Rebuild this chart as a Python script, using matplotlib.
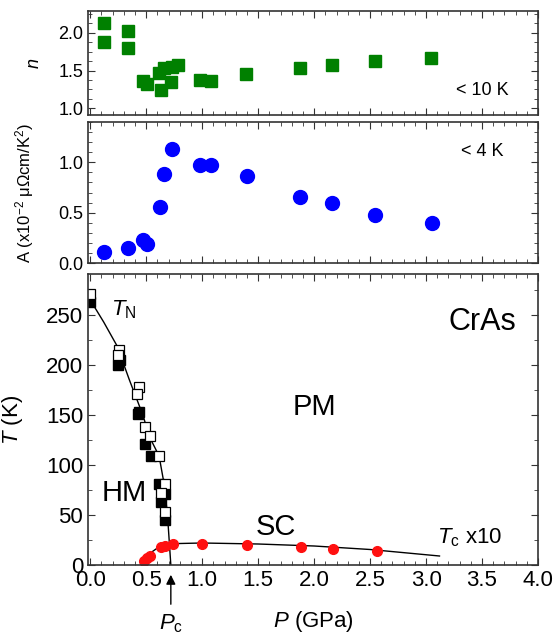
import numpy as np
import matplotlib.pyplot as plt
from matplotlib.ticker import MultipleLocator

plt.rcParams['font.family'] = ['Liberation Sans', 'DejaVu Sans']
plt.rcParams['mathtext.fontset'] = 'custom'
plt.rcParams['mathtext.rm'] = 'Liberation Sans'
plt.rcParams['mathtext.it'] = 'Liberation Sans:italic'

# exponent n (< 10 K)
p_n = [0.12, 0.12, 0.34, 0.34, 0.47, 0.51, 0.61, 0.63, 0.66, 0.72, 0.73, 0.78, 0.98, 1.08, 1.39, 1.87, 2.16, 2.54, 3.04]
n_val = [2.13, 1.88, 2.03, 1.80, 1.36, 1.32, 1.47, 1.24, 1.53, 1.35, 1.55, 1.57, 1.38, 1.36, 1.46, 1.54, 1.58, 1.63, 1.67]

# A coefficient (< 4 K)
p_a = [0.12, 0.34, 0.47, 0.51, 0.62, 0.66, 0.73, 0.98, 1.08, 1.40, 1.87, 2.16, 2.54, 3.05]
a_val = [0.11, 0.15, 0.23, 0.19, 0.56, 0.88, 1.13, 0.97, 0.97, 0.86, 0.66, 0.60, 0.48, 0.40]

# T_N, filled and open squares
p_tn_fill = [0.0, 0.25, 0.27, 0.43, 0.44, 0.49, 0.54, 0.61, 0.67, 0.63, 0.67]
tn_fill = [263, 200, 205, 151, 153, 121, 109, 81, 71, 63, 45]
p_tn_open = [0.0, 0.26, 0.25, 0.44, 0.42, 0.49, 0.53, 0.61, 0.67, 0.63, 0.67]
tn_open = [271, 215, 210, 178, 171, 138, 129, 109, 81, 72, 53]

# T_N guide line
p_tn_line = [0.0, 0.12, 0.24, 0.35, 0.47, 0.53, 0.615, 0.66, 0.69, 0.705, 0.72]
tn_line = [265, 243, 219, 185, 150, 128, 109, 81, 50, 25, 0]

# Tc x10
p_tc = [0.48, 0.51, 0.53, 0.63, 0.67, 0.735, 1.0, 1.40, 1.88, 2.17, 2.56]
tc_val = [4, 7, 9, 18, 19, 21, 21, 20.5, 18.3, 16.3, 14.3]

p_tc_line = [0.47, 0.5, 0.55, 0.6, 0.7, 0.8, 1.0, 1.5, 2.0, 2.5, 3.12]
tc_line = [0, 7, 13, 17, 20.5, 21.5, 22, 21, 19, 15.5, 9]

Pc = 0.72

fig = plt.figure(figsize=(5.54, 6.32), dpi=100)
left, width = 88 / 554, 450 / 554
ax1 = fig.add_axes([left, 1 - 115 / 632, width, 104 / 632])
ax2 = fig.add_axes([left, 1 - 263 / 632, width, 141 / 632])
ax3 = fig.add_axes([left, 1 - 565 / 632, width, 291 / 632])

for ax in (ax1, ax2, ax3):
    ax.set_xlim(-0.02, 4.0)
    ax.xaxis.set_major_locator(MultipleLocator(0.5))
    ax.xaxis.set_minor_locator(MultipleLocator(0.1))
    ax.tick_params(which='both', direction='in', top=True, right=True, color='#333333')
    ax.tick_params(which='major', length=5)
    ax.tick_params(which='minor', length=3)
    for s in ax.spines.values():
        s.set_color('#333333')
        s.set_linewidth(1.2)

# top panel
ax1.plot(p_n, n_val, 's', color='#008000', ms=9, mec='#008000')
ax1.set_ylim(0.91, 2.29)
ax1.yaxis.set_major_locator(MultipleLocator(0.5))
ax1.yaxis.set_minor_locator(MultipleLocator(0.125))
ax1.set_xticklabels([])
ax1.tick_params(labelsize=13)
ax1.set_ylabel('$n$', fontsize=13)
ax1.yaxis.set_label_coords(-0.1, 0.5)
ax1.text(3.5, 1.24, '< 10 K', fontsize=13, ha='center', va='center')

# middle panel
ax2.plot(p_a, a_val, 'o', color='#0000ff', ms=10)
ax2.set_ylim(0, 1.4)
ax2.yaxis.set_major_locator(MultipleLocator(0.5))
ax2.yaxis.set_minor_locator(MultipleLocator(0.1))
ax2.set_xticklabels([])
ax2.tick_params(labelsize=13)
ax2.set_ylabel('A (x10$^{-2}$ \u03bc\u03a9cm/K$^{2}$)', fontsize=12)
ax2.yaxis.set_label_coords(-0.115, 0.5)
ax2.text(3.5, 1.11, '< 4 K', fontsize=13, ha='center', va='center')

# bottom panel
ax3.plot(p_tn_line, tn_line, '-', color='black', lw=1)
ax3.plot(p_tc_line, tc_line, '-', color='black', lw=1)
ax3.plot(p_tn_fill, tn_fill, 's', color='black', ms=6.5)
ax3.plot(p_tn_open, tn_open, 's', mfc='white', mec='black', mew=0.9, ms=6.5)
ax3.plot(p_tc, tc_val, 'o', color='#ff1010', ms=7)
ax3.set_ylim(0, 291)
ax3.yaxis.set_major_locator(MultipleLocator(50))
ax3.yaxis.set_minor_locator(MultipleLocator(25))
ax3.tick_params(labelsize=16)
ax3.set_ylabel('$T$ (K)', fontsize=16)
ax3.yaxis.set_label_coords(-0.14, 0.5)
ax3.set_xlabel('$P$ (GPa)', fontsize=16, labelpad=13)

ax3.annotate('', xy=(Pc, -7), xytext=(Pc, -42), annotation_clip=False,
             arrowprops=dict(arrowstyle='-|>', color='black', lw=1, mutation_scale=14))
ax3.text(Pc, -47, '$P_\\mathrm{c}$', fontsize=16, ha='center', va='top', clip_on=False)

ax3.text(0.3, 255, '$T_\\mathrm{N}$', fontsize=16, ha='center', va='center')
ax3.text(3.5, 243, 'CrAs', fontsize=22, ha='center', va='center')
ax3.text(2.0, 158, 'PM', fontsize=21, ha='center', va='center')
ax3.text(0.3, 72, 'HM', fontsize=21, ha='center', va='center')
ax3.text(1.66, 38, 'SC', fontsize=21, ha='center', va='center')
ax3.text(3.1, 27, '$T_\\mathrm{c}$ x10', fontsize=16, ha='left', va='center')

fig.savefig('out.png', dpi=100)
